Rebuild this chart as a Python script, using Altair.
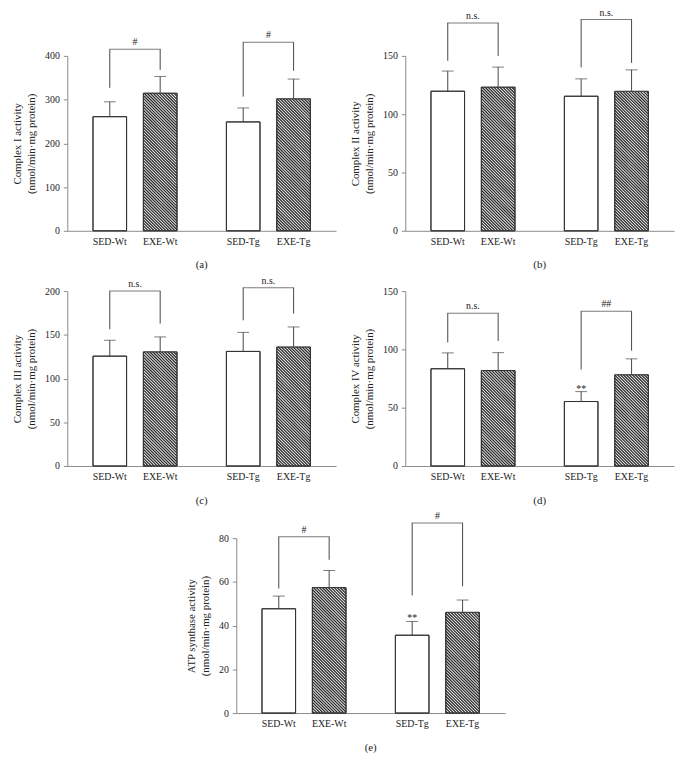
import altair as alt

# ---------------- data ----------------
GROUPS = ["Wt", "Tg"]
TREATS = ["SED", "EXE"]
GROUP = ["Wt", "Wt", "Tg", "Tg"]
TREAT = ["SED", "EXE", "SED", "EXE"]
CATEGORY = ["SED-Wt", "EXE-Wt", "SED-Tg", "EXE-Tg"]

A_MEAN = [261, 315, 249, 302]
A_UPPER = [295, 353, 281, 347]
A_LEG = [327, 368, 307, 366]
A_BRACKET = [415, 431]
A_SIG = ["#", "#"]
A_STAR = ["", "", "", ""]

B_MEAN = [119.7, 123.3, 115.4, 119.7]
B_UPPER = [137, 140.4, 130.3, 138]
B_LEG = [145.8, 150, 140.2, 144]
B_BRACKET = [178.3, 181.2]
B_SIG = ["n.s.", "n.s."]
B_STAR = ["", "", "", ""]

C_MEAN = [125.6, 130.6, 131, 136.2]
C_UPPER = [143.8, 147.6, 152.8, 159]
C_LEG = [156.4, 162.8, 166.6, 174.2]
C_BRACKET = [200, 203.8]
C_SIG = ["n.s.", "n.s."]
C_STAR = ["", "", "", ""]

D_MEAN = [83.4, 81.9, 55.3, 78.3]
D_UPPER = [97, 97.2, 63.8, 91.9]
D_LEG = [106, 107.2, 82.8, 98.9]
D_BRACKET = [131, 132.7]
D_SIG = ["n.s.", "##"]
D_STAR = ["", "", "**", ""]

E_MEAN = [47.7, 57.4, 35.6, 46.1]
E_UPPER = [53.5, 65.2, 41.9, 51.7]
E_LEG = [57, 70.1, 53.8, 58]
E_BRACKET = [80.6, 86.9]
E_SIG = ["#", "#"]
E_STAR = ["", "", "**", ""]

UNIT = "(nmol/min·mg protein)"

# ---------------- layout / style ----------------
FONT = "Liberation Serif"
W, H = 272, 177
GROUP_STEP = 135.0
BAND = 85.0
PI = 1 - BAND / GROUP_STEP
PO = (W / GROUP_STEP - 2 + PI) / 2
SUB_PI = 1 / 3
SUB_STEP = BAND / (2 - SUB_PI)
BAR_W = SUB_STEP * (1 - SUB_PI)
HATCH_PX = 3.0
LINE = "#444444"
AXIS = "#8a8a8a"
TEXT = "#222222"
DARK = "#2b2b2b"


def panel(mean, upper, leg, bracket, sig, star, ymax, step, name, caption):
    rows = []
    for i in range(4):
        rows.append({
            "group": GROUP[i], "treat": TREAT[i], "category": CATEGORY[i],
            "mean": mean[i], "upper": upper[i], "leg": leg[i],
            "top": bracket[GROUPS.index(GROUP[i])], "star": star[i],
        })
    grows = [{"group": g, "top": bracket[j], "sig": sig[j]} for j, g in enumerate(GROUPS)]
    bd = alt.Data(values=rows)
    gd = alt.Data(values=grows)

    px = ymax / H  # data units per pixel
    yscale = alt.Scale(domain=[0, ymax], nice=False, zero=True)
    xscale = alt.Scale(paddingInner=PI, paddingOuter=PO)
    yaxis = alt.Axis(values=list(range(0, ymax + 1, step)), title=[name, UNIT])
    xaxis = alt.Axis(labels=False, ticks=False, title=None)
    xo = alt.XOffset("treat:N", sort=TREATS, scale=alt.Scale(paddingInner=SUB_PI, paddingOuter=0))
    xn = alt.X("group:N", sort=GROUPS, scale=xscale, axis=xaxis)

    def yq(f):
        return alt.Y(f"{f}:Q", scale=yscale, axis=yaxis, stack=None)

    exe = alt.datum.treat == "EXE"

    bars = alt.Chart(bd).mark_bar(fill="#ffffff", stroke="#333333", strokeWidth=1).encode(
        x=xn, xOffset=xo, y=yq("mean"))
    hatch = alt.Chart(bd).transform_filter(exe).transform_calculate(
        k=f"sequence(-6, datum.mean / {HATCH_PX * px} + 7)"
    ).transform_flatten(["k"]).transform_calculate(
        hy=f"datum.k * {HATCH_PX * px}"
    ).mark_point(shape="M-1,-1L1,1", size=BAR_W ** 2, filled=False, strokeWidth=1.3,
                 color=DARK, opacity=1, clip=True).encode(
        x=xn, xOffset=xo, y=yq("hy"))
    mask = alt.Chart(bd).transform_filter(exe).transform_calculate(
        mbot=f"datum.mean + {2 * px}",
        mtop=f"datum.mean + {42 * px}",
    ).mark_bar(fill="#ffffff", stroke="#ffffff", strokeWidth=4).encode(
        x=xn, xOffset=xo, y=yq("mbot"), y2="mtop:Q")
    outline = alt.Chart(bd).mark_bar(fillOpacity=0, stroke="#333333", strokeWidth=1).encode(
        x=xn, xOffset=xo, y=yq("mean"))
    err = alt.Chart(bd).mark_rule(color=LINE, strokeWidth=1).encode(
        x=xn, xOffset=xo, y=yq("mean"), y2="upper:Q")
    cap = alt.Chart(bd).mark_tick(color=LINE, size=12, thickness=1).encode(
        x=xn, xOffset=xo, y=yq("upper"))
    legs = alt.Chart(bd).mark_rule(color=LINE, strokeWidth=1).encode(
        x=xn, xOffset=xo, y=yq("leg"), y2="top:Q")
    bar_top = alt.Chart(gd).mark_tick(color=LINE, size=SUB_STEP + 1, thickness=1).encode(
        x=xn, y=yq("top"))
    sig_t = alt.Chart(gd).mark_text(font=FONT, fontSize=10, color=TEXT, baseline="alphabetic", dy=-4).encode(
        x=xn, y=yq("top"), text="sig:N")
    star_t = alt.Chart(bd).mark_text(font=FONT, fontSize=10, color=TEXT, baseline="alphabetic", dy=0).encode(
        x=xn, xOffset=xo, y=yq("upper"), text="star:N")
    cat_t = alt.Chart(bd).mark_text(font=FONT, fontSize=10, color=TEXT, baseline="middle").encode(
        x=xn, xOffset=xo, y=alt.value(H + 11), text="category:N")

    return alt.layer(bars, hatch, mask, outline, err, cap, legs, bar_top, sig_t, star_t, cat_t).properties(
        width=W, height=H,
        title=alt.TitleParams(caption, orient="bottom", offset=13, font=FONT, fontSize=11,
                              fontWeight="normal", color=TEXT),
    )


pa = panel(A_MEAN, A_UPPER, A_LEG, A_BRACKET, A_SIG, A_STAR, 400, 100, "Complex I activity", "(a)")
pb = panel(B_MEAN, B_UPPER, B_LEG, B_BRACKET, B_SIG, B_STAR, 150, 50, "Complex II activity", "(b)")
pc = panel(C_MEAN, C_UPPER, C_LEG, C_BRACKET, C_SIG, C_STAR, 200, 50, "Complex III activity", "(c)")
pd = panel(D_MEAN, D_UPPER, D_LEG, D_BRACKET, D_SIG, D_STAR, 150, 50, "Complex IV activity", "(d)")
pe = panel(E_MEAN, E_UPPER, E_LEG, E_BRACKET, E_SIG, E_STAR, 80, 20, "ATP synthase activity", "(e)")

row1 = alt.hconcat(pa, pb, spacing=14)
row2 = alt.hconcat(pc, pd, spacing=14)
chart = alt.vconcat(row1, row2, pe, spacing=5, center=True).properties(
    padding={"left": 4, "top": -5, "right": 5, "bottom": 0}
).configure_view(stroke=None).configure_axis(
    domainColor=AXIS, tickColor=AXIS, domainWidth=1, tickWidth=1, tickSize=4,
    labelFont=FONT, labelFontSize=10, labelColor=TEXT, labelPadding=4,
    titleFont=FONT, titleFontSize=11, titleFontWeight="normal", titleColor=TEXT,
    titlePadding=8, titleLineHeight=14, grid=False,
)

chart.save("out.html", embed_options={"renderer": "svg", "actions": False})
